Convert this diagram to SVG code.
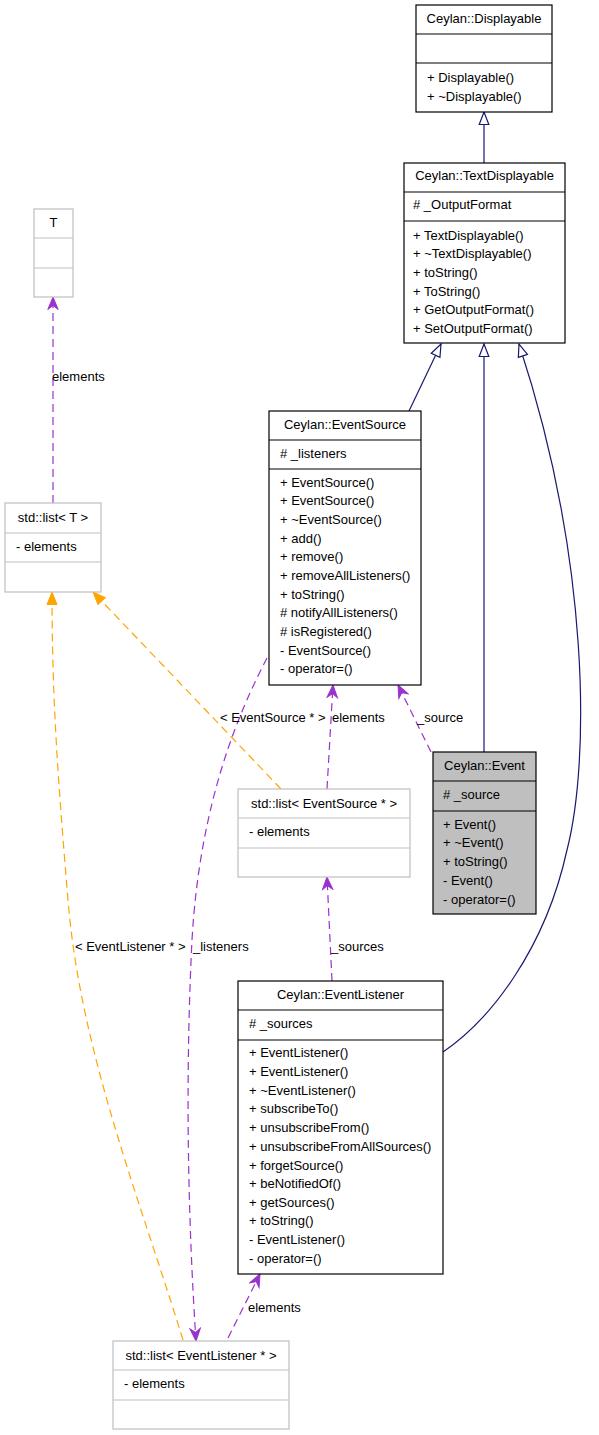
<svg xmlns="http://www.w3.org/2000/svg" width="599" height="1435" viewBox="0 0 599 1435">
<style>
text{font-family:"Liberation Sans",Arial,sans-serif;font-size:13px;fill:#000}
.t{text-anchor:middle}
.b{fill:#fff;stroke:#000;stroke-width:1.2}
.g{fill:#fff;stroke:#bfbfbf;stroke-width:1.2}
.e{fill:#bfbfbf;stroke:#000;stroke-width:1.2}
.lb{stroke:#000;stroke-width:1.2}
.lg{stroke:#bfbfbf;stroke-width:1.2}
.inh{fill:none;stroke:#191970;stroke-width:1.2}
.use{fill:none;stroke:#9a32cd;stroke-width:1.2;stroke-dasharray:8,5}
.tpl{fill:none;stroke:#ffa500;stroke-width:1.2;stroke-dasharray:8,5}
</style>
<defs>
<marker id="mi" markerWidth="15" markerHeight="13" refX="13.5" refY="6" orient="auto" markerUnits="userSpaceOnUse"><path d="M1,1.2 L13.5,6 L1,10.8 Z" fill="#fff" stroke="#191970" stroke-width="1.2"/></marker>
<marker id="mv" markerWidth="15" markerHeight="13" refX="13.5" refY="6" orient="auto" markerUnits="userSpaceOnUse"><path d="M13.5,6 L1,0.8 L5,6 L1,11.2 Z" fill="#9a32cd" stroke="#9a32cd" stroke-width="1"/></marker>
<marker id="mo" markerWidth="15" markerHeight="13" refX="13.5" refY="6" orient="auto" markerUnits="userSpaceOnUse"><path d="M1,1 L13.5,6 L1,11 Z" fill="#ffa500" stroke="#ffa500" stroke-width="1"/></marker>
</defs>

<g id="connectors">
<path class="inh" d="M484,163 L484,112" marker-end="url(#mi)"/>
<path class="inh" d="M409,411 L441,344" marker-end="url(#mi)"/>
<path class="inh" d="M484,752 L484,344" marker-end="url(#mi)"/>
<path class="inh" d="M443,1052 C490,1020 545,950 567,850 C590,760 590,560 519,344" marker-end="url(#mi)"/>
<path class="use" d="M53,503 L53,297" marker-end="url(#mv)"/>
<path class="tpl" d="M281,789 L93,592" marker-end="url(#mo)"/>
<path class="tpl" d="M183,1340 C140,1200 80,1050 68,900 C58,780 52,700 52,592" marker-end="url(#mo)"/>
<path class="use" d="M327,789 L333,685" marker-end="url(#mv)"/>
<path class="use" d="M431,752 L398,685" marker-end="url(#mv)"/>
<path class="use" d="M332,981 L327,877" marker-end="url(#mv)"/>
<path class="use" d="M228,1338 L260,1274" marker-end="url(#mv)"/>
<path class="use" d="M267,658 C240,710 200,800 192,940 C185,1080 188,1220 196,1341" marker-end="url(#mv)"/>
<text x="52" y="380.5">elements</text>
<text x="220" y="721.5">&lt; EventSource * &gt;</text>
<text x="332" y="721.5">elements</text>
<text x="417" y="721.5">_source</text>
<text x="75" y="951">&lt; EventListener * &gt;</text>
<text x="193" y="951">_listeners</text>
<text x="331" y="950.5">_sources</text>
<text x="248" y="1311.5">elements</text>
</g>

<g id="Displayable">
<rect class="b" x="416" y="5" width="136" height="107"/>
<line class="lb" x1="416" y1="34" x2="552" y2="34"/>
<line class="lb" x1="416" y1="63" x2="552" y2="63"/>
<text class="t" x="484" y="23">Ceylan::Displayable</text>
<text x="427" y="82">+ Displayable()</text>
<text x="427" y="101">+ ~Displayable()</text>
</g>

<g id="TextDisplayable">
<rect class="b" x="404" y="163" width="161" height="180"/>
<line class="lb" x1="404" y1="192" x2="565" y2="192"/>
<line class="lb" x1="404" y1="221" x2="565" y2="221"/>
<text class="t" x="484.5" y="180">Ceylan::TextDisplayable</text>
<text x="413" y="209">#  _OutputFormat</text>
<text x="413" y="239.5">+ TextDisplayable()</text>
<text x="413" y="258">+ ~TextDisplayable()</text>
<text x="413" y="276.5">+ toString()</text>
<text x="413" y="295.5">+ ToString()</text>
<text x="413" y="314">+ GetOutputFormat()</text>
<text x="413" y="332.5">+ SetOutputFormat()</text>
</g>

<g id="T">
<rect class="g" x="34" y="209" width="39" height="88"/>
<line class="lg" x1="34" y1="238" x2="73" y2="238"/>
<line class="lg" x1="34" y1="268" x2="73" y2="268"/>
<text class="t" x="53.5" y="227">T</text>
</g>

<g id="listT">
<rect class="g" x="5" y="503" width="96" height="89"/>
<line class="lg" x1="5" y1="533" x2="101" y2="533"/>
<line class="lg" x1="5" y1="562" x2="101" y2="562"/>
<text class="t" x="53" y="522">std::list&lt; T &gt;</text>
<text x="16" y="551">- elements</text>
</g>

<g id="EventSource">
<rect class="b" x="269" y="411" width="152" height="274"/>
<line class="lb" x1="269" y1="440" x2="421" y2="440"/>
<line class="lb" x1="269" y1="469" x2="421" y2="469"/>
<text class="t" x="345" y="428.5">Ceylan::EventSource</text>
<text x="280" y="457.5">#  _listeners</text>
<text x="280" y="487">+ EventSource()</text>
<text x="280" y="505">+ EventSource()</text>
<text x="280" y="524">+ ~EventSource()</text>
<text x="280" y="543">+ add()</text>
<text x="280" y="561">+ remove()</text>
<text x="280" y="580">+ removeAllListeners()</text>
<text x="280" y="599">+ toString()</text>
<text x="280" y="617"># notifyAllListeners()</text>
<text x="280" y="635.5"># isRegistered()</text>
<text x="280" y="654.5">- EventSource()</text>
<text x="280" y="673">- operator=()</text>
</g>

<g id="Event">
<rect class="e" x="433" y="752" width="103" height="162"/>
<line class="lb" x1="433" y1="781" x2="536" y2="781"/>
<line class="lb" x1="433" y1="811" x2="536" y2="811"/>
<text class="t" x="484.5" y="769.5">Ceylan::Event</text>
<text x="443" y="799">#  _source</text>
<text x="443" y="828.5">+ Event()</text>
<text x="443" y="847">+ ~Event()</text>
<text x="443" y="865.5">+ toString()</text>
<text x="443" y="884.5">- Event()</text>
<text x="443" y="903.5">- operator=()</text>
</g>

<g id="listEventSource">
<rect class="g" x="238" y="789" width="172" height="88"/>
<line class="lg" x1="238" y1="818" x2="410" y2="818"/>
<line class="lg" x1="238" y1="848" x2="410" y2="848"/>
<text class="t" x="324" y="808">std::list&lt; EventSource * &gt;</text>
<text x="249" y="836">- elements</text>
</g>

<g id="EventListener">
<rect class="b" x="238" y="981" width="205" height="293"/>
<line class="lb" x1="238" y1="1010" x2="443" y2="1010"/>
<line class="lb" x1="238" y1="1040" x2="443" y2="1040"/>
<text class="t" x="340.5" y="999">Ceylan::EventListener</text>
<text x="249" y="1028">#  _sources</text>
<text x="249" y="1057">+ EventListener()</text>
<text x="249" y="1076">+ EventListener()</text>
<text x="249" y="1095">+ ~EventListener()</text>
<text x="249" y="1113">+ subscribeTo()</text>
<text x="249" y="1132">+ unsubscribeFrom()</text>
<text x="249" y="1151">+ unsubscribeFromAllSources()</text>
<text x="249" y="1169.5">+ forgetSource()</text>
<text x="249" y="1188">+ beNotifiedOf()</text>
<text x="249" y="1207">+ getSources()</text>
<text x="249" y="1225">+ toString()</text>
<text x="249" y="1244">- EventListener()</text>
<text x="249" y="1263">- operator=()</text>
</g>

<g id="listEventListener">
<rect class="g" x="113" y="1341" width="176" height="88"/>
<line class="lg" x1="113" y1="1370" x2="289" y2="1370"/>
<line class="lg" x1="113" y1="1400" x2="289" y2="1400"/>
<text class="t" x="201" y="1359.5">std::list&lt; EventListener * &gt;</text>
<text x="124" y="1388">- elements</text>
</g>
</svg>
